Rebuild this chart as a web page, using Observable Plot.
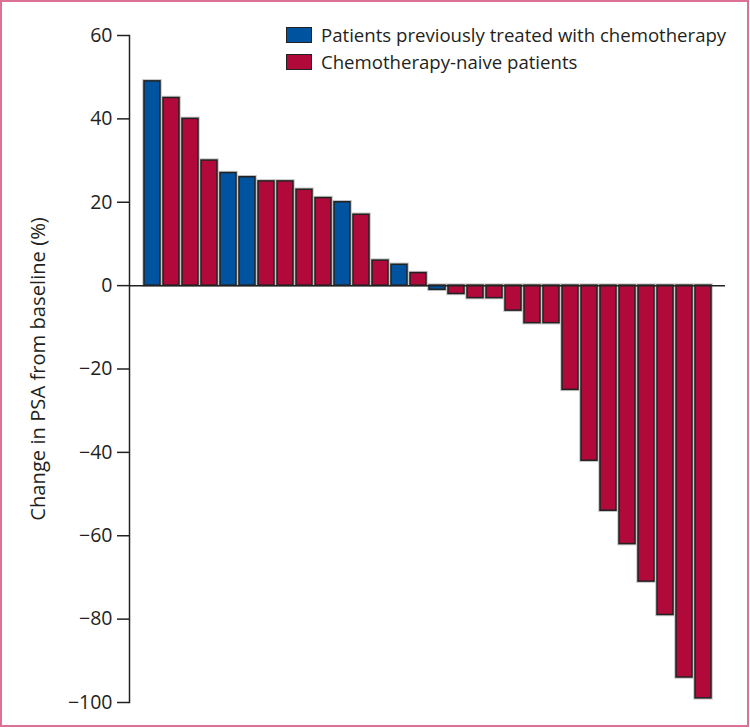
<!DOCTYPE html>
<html><head><meta charset="utf-8">
<script src="https://cdn.jsdelivr.net/npm/d3@7"></script>
<script src="https://cdn.jsdelivr.net/npm/@observablehq/plot@0.6"></script>
<style>
body{margin:0;background:#fff;}
#wrap{position:relative;width:750px;height:728px;}
#border{position:absolute;left:0;top:0;width:749px;height:727px;box-sizing:border-box;border:2px solid #dc7097;pointer-events:none;}
#legend{position:absolute;left:286px;top:21px;font-family:"Open Sans",sans-serif;font-size:18.6px;color:#231f20;}
.item{display:flex;align-items:center;height:27px;white-space:nowrap;}
.sw{width:26px;height:16px;box-sizing:border-box;border:1.5px solid #222;margin-right:9px;}
</style>
</head><body>
<div id="wrap"><div id="chart"></div><div id="legend"></div><div id="border"></div></div>
<script>
const patientIds = ["1","2","3","4","5","6","7","8","9","10","11","12","13","14","15","16","17","18","19","20","21","22","23","24","25","26","27","28","29","30"];
const psaChange = [49,45,40,30,27,26,25,25,23,21,20,17,6,5,3,-1,-2,-3,-3,-6,-9,-9,-25,-42,-54,-62,-71,-79,-94,-99];
const patientGroup = ["P","N","N","N","P","P","N","N","N","N","P","N","N","P","N","P","N","N","N","N","N","N","N","N","N","N","N","N","N","N"];
const groupKeys = ["P","N"];
const groupLabels = ["Patients previously treated with chemotherapy","Chemotherapy-naive patients"];
const groupColors = ["#00549f","#b10a3a"];
const yTicks = [60,40,20,0,-20,-40,-60,-80,-100];
const yLabel = "Change in PSA from baseline (%)";

const data = patientIds.map((id,i)=>({id, change:psaChange[i], group:patientGroup[i]}));

const chart = Plot.plot({
  width:750, height:728,
  marginLeft:129, marginRight:25, marginTop:35, marginBottom:26,
  style:{fontFamily:"'Open Sans',sans-serif", fontSize:"19px", color:"#231f20", background:"white", overflow:"visible"},
  x:{type:"band", domain:patientIds, paddingInner:0.16, paddingOuter:0.655, axis:null},
  y:{domain:[-100,60]},
  color:{domain:groupKeys, range:groupColors},
  marks:[
    Plot.barY(data,{x:"id", y:"change", fill:"none", stroke:"#c4c4c4", strokeWidth:3.5}),
    Plot.barY(data,{x:"id", y:"change", fill:"group", stroke:"#222", strokeWidth:1.5}),
    Plot.ruleY([0],{stroke:"#222", strokeWidth:1.5}),
    Plot.axisY({ticks:yTicks, tickSize:12, tickPadding:5, stroke:"#222", strokeWidth:1.5, fontSize:19.5, label:null}),
    Plot.axisY({ticks:[], tickSize:0, fontSize:20.2,
      label:yLabel, labelAnchor:"center", labelOffset:99, labelArrow:"none"}),
    Plot.frame({anchor:"left", stroke:"#222", strokeWidth:1.5})
  ]
});
document.getElementById("chart").appendChild(chart);

const legend = document.getElementById("legend");
groupKeys.forEach((k,i)=>{
  const row = document.createElement("div"); row.className="item";
  const sw = document.createElement("span"); sw.className="sw"; sw.style.background=groupColors[i];
  const t = document.createElement("span"); t.textContent=groupLabels[i];
  row.appendChild(sw); row.appendChild(t); legend.appendChild(row);
});
</script>
</body></html>
